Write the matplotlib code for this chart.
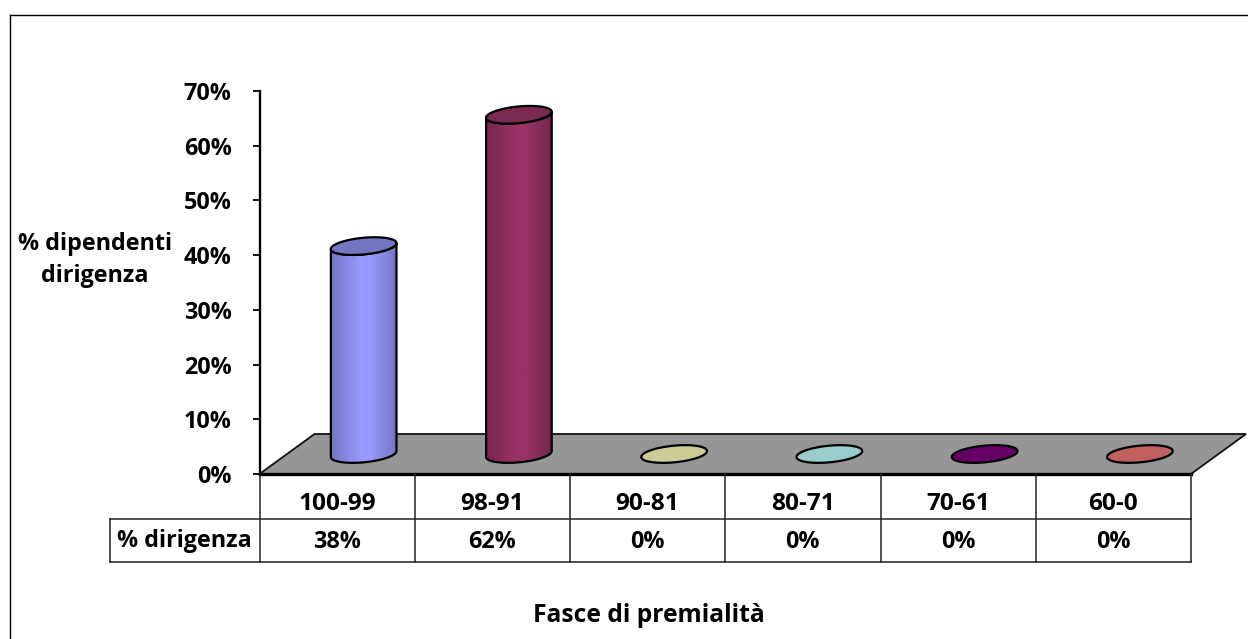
import numpy as np
import matplotlib
matplotlib.use("Agg")
import matplotlib.pyplot as plt
from matplotlib.colors import LinearSegmentedColormap, to_rgb
from matplotlib.lines import Line2D
from matplotlib.patches import Polygon

categories = ["100-99", "98-91", "90-81", "80-71", "70-61", "60-0"]
values = [38, 62, 0, 0, 0, 0]
value_labels = ["38%", "62%", "0%", "0%", "0%", "0%"]
colors = ["#9999FF", "#993366", "#CCCC99", "#99CCCC", "#660066", "#CC6666"]
top_colors = ["#7575C4", "#7A2950", "#CCCC99", "#99CCCC", "#660066", "#C26060"]
yticks = [0, 10, 20, 30, 40, 50, 60, 70]
row_label = "% dirigenza"
y_title = "% dipendenti\ndirigenza"
x_title = "Fasce di premialità"

W, H = 1248, 639
FS = 16.8
plt.rcParams["font.family"] = ["Open Sans", "DejaVu Sans"]
fig = plt.figure(figsize=(W / 100, H / 100), dpi=100, facecolor="white")
L, R, T, B = 259.5, 1191, 91, 474
ax = fig.add_axes([L / W, 1 - B / H, (R - L) / W, (B - T) / H])
ax.set_xlim(-0.5, 5.5)
ax.set_ylim(0, 70)
ax.patch.set_visible(False)
for s in ["top", "right", "bottom"]:
    ax.spines[s].set_visible(False)
ax.spines["left"].set_linewidth(1.7)
ax.spines["left"].set_color("black")
ax.set_xticks([])
ax.set_yticks(yticks)
ax.set_yticklabels([f"{v}%" for v in yticks], fontsize=FS, fontweight="bold")
ax.tick_params(axis="y", length=5, width=1.3, pad=15)

px = 6 / (R - L)      # data x per pixel
py = 70 / (B - T)     # data y per pixel

# floor
dx_depth, dy_depth = 55 * px, 40 * py
floor = Polygon([(-0.5, 0), (5.5, 0), (5.5 + dx_depth, dy_depth), (-0.5 + dx_depth, dy_depth)],
                closed=True, fc="#969696", ec="#111111", lw=1.3, clip_on=False, zorder=1)
ax.add_patch(floor)
ax.add_line(Line2D([-0.5, 5.5], [0, 0], color="black", lw=2.4, clip_on=False, zorder=1.5))

# cylinders
a, b, tilt = 33.0, 8.3, np.radians(5.5)
t = np.linspace(0, 2 * np.pi, 121)
ex = a * np.cos(t) * np.cos(tilt) - b * np.sin(t) * np.sin(tilt)
ey = a * np.cos(t) * np.sin(tilt) + b * np.sin(t) * np.cos(tilt)
base_dx = 26.5 * px
base_y = 20 * py

for i, (v, c, tc) in enumerate(zip(values, colors, top_colors)):
    cx = i + base_dx
    X, Y = cx + ex * px, base_y + ey * py
    if v > 0:
        lower = t > np.pi
        order = np.argsort(X[lower])
        bx, by = X[lower][order], Y[lower][order]
        body = np.vstack([np.column_stack([bx, by]),
                          np.column_stack([bx[::-1], by[::-1] + v])])
        poly = Polygon(body, closed=True, fc="none", ec="black", lw=1.6, clip_on=False, zorder=3)
        ax.add_patch(poly)
        rgb = np.array(to_rgb(c))
        cmap = LinearSegmentedColormap.from_list(
            "cyl", [(0, tuple(rgb * 0.76)), (0.45, tuple(rgb)), (0.6, tuple(rgb)), (1, tuple(rgb * 0.76))])
        grad = np.linspace(0, 1, 128)[None, :]
        im = ax.imshow(grad, cmap=cmap, aspect="auto", zorder=2.5, clip_on=True,
                       extent=(bx.min(), bx.max(), base_y - 10 * py, base_y + v + 10 * py))
        im.set_clip_path(poly)
    top = Polygon(np.column_stack([X, Y + v]), closed=True, fc=tc, ec="black",
                  lw=1.6, clip_on=False, zorder=4)
    ax.add_patch(top)
ax.set_xlim(-0.5, 5.5)
ax.set_ylim(0, 70)

# data table
def fig_line(x0, y0, x1, y1, lw=1.0, color="black"):
    fig.add_artist(Line2D([x0 / W, x1 / W], [1 - y0 / H, 1 - y1 / H], color=color, lw=lw))

row1, row2 = 519, 562
col_w = (R - L) / len(categories)
for i in range(len(categories) + 1):
    x = L + i * col_w
    fig_line(x, B, x, row2, lw=1.1, color="#222222")
fig_line(110, row1, R, row1, lw=1.1, color="#222222")
fig_line(110, row2, R, row2, lw=1.1, color="#222222")
fig_line(110, row1, 110, row2, lw=1.1, color="#222222")
for i, (cat, lab) in enumerate(zip(categories, value_labels)):
    x = (L + (i + 0.5) * col_w) / W
    fig.text(x, 1 - 503.5 / H, cat, ha="center", va="center", fontsize=17.6, fontweight="bold")
    fig.text(x, 1 - 542 / H, lab, ha="center", va="center", fontsize=FS, fontweight="bold")
fig.text(184 / W, 1 - 541 / H, row_label, ha="center", va="center", fontsize=FS, fontweight="bold")

fig.text(95 / W, 1 - 260 / H, y_title, ha="center", va="center", fontsize=FS,
         fontweight="bold", linespacing=1.42)
fig.text(649 / W, 1 - 616 / H, x_title, ha="center", va="center", fontsize=17.7, fontweight="bold")

# outer frame
fig_line(10, 15, W, 15, lw=1.0)
fig_line(10, 15, 10, H, lw=1.0)

fig.savefig("out.png", dpi=100, facecolor="white")
